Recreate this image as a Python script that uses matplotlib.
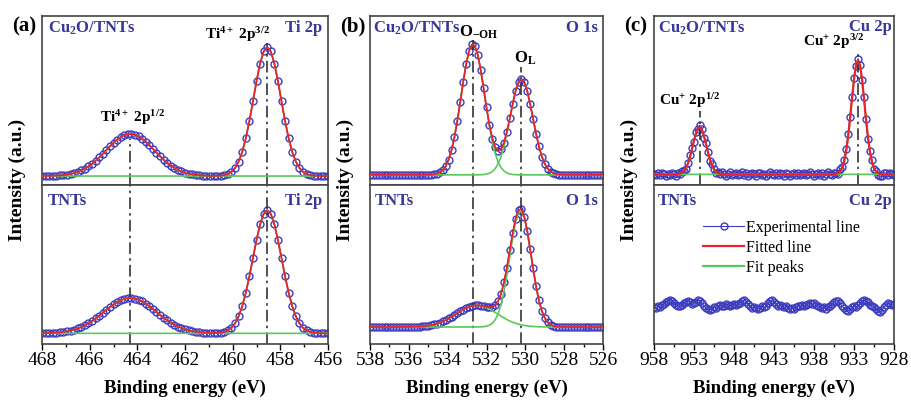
import numpy as np
from matplotlib import pyplot as plt

plt.rcParams['font.family'] = ['Liberation Serif', 'DejaVu Serif']
plt.rcParams['mathtext.fontset'] = 'custom'
plt.rcParams['mathtext.rm'] = 'Liberation Serif:bold'
plt.rcParams['mathtext.it'] = 'Liberation Serif:bold'
plt.rcParams['mathtext.bf'] = 'Liberation Serif:bold'

# ---- fit peak tables (position eV, height, FWHM eV) ----
# (a) Ti 2p
ti_cu_base = 0.053
ti_cu_pos = [464.3, 458.55]
ti_cu_amp = [0.249, 0.763]
ti_cu_fwhm = [2.4, 1.35]
ti_tnt_base = 0.067
ti_tnt_pos = [464.3, 458.55]
ti_tnt_amp = [0.222, 0.775]
ti_tnt_fwhm = [2.6, 1.42]

# (b) O 1s
o_cu_base = 0.06
o_cu_pos = [532.7, 530.2]
o_cu_amp = [0.774, 0.567]
o_cu_fwhm = [1.42, 1.36]
o_tnt_base = 0.107
o_tnt_pos = [532.5, 530.25]
o_tnt_amp = [0.136, 0.73]
o_tnt_fwhm = [2.5, 1.3]

# (c) Cu 2p
cu_cu_base = 0.063
cu_cu_pos = [952.3, 932.5]
cu_cu_amp = [0.28, 0.676]
cu_cu_fwhm = [2.0, 1.95]

# scatter of the measured Cu2O/TNTs Cu 2p points around the fit (958 -> 928, 0.25 eV)
cu_cu_resid = [0.004, -0.006, 0.008, -0.002, 0.010, 0.003, -0.008, 0.005,
               -0.004, 0.009, 0.002, -0.010, 0.006, -0.003, 0.011, 0.001,
               -0.007, 0.004, 0.012, 0.006, -0.005, 0.008, -0.002, 0.010,
               0.003, -0.009, 0.006, 0.000, -0.006, 0.009, 0.004, -0.008,
               0.007, -0.003, 0.010, 0.002, -0.007, 0.005, 0.011, -0.004,
               0.003, 0.008, -0.006, 0.004, 0.012, -0.002, 0.006, -0.009,
               0.001, 0.009, 0.004, -0.007, 0.006, 0.010, -0.003, 0.005,
               -0.008, 0.003, 0.011, 0.002, -0.005, 0.007, -0.002, 0.009,
               0.004, -0.007, 0.006, 0.001, -0.009, 0.005, 0.010, -0.003,
               0.006, -0.005, 0.002, 0.009, -0.006, 0.004, 0.012, 0.001,
               -0.007, 0.005, 0.010, -0.002, 0.006, -0.008, 0.003, 0.011,
               0.002, -0.006, 0.008, 0.004, -0.003, 0.012, 0.007, 0.015,
               0.018, 0.020, 0.014, 0.010, 0.006, -0.004, 0.009, 0.002,
               -0.006, 0.008, 0.003, -0.010, 0.006, 0.011, -0.003, 0.004,
               -0.012, -0.015, -0.008, 0.005, 0.009, -0.004, 0.007, 0.002,
               -0.005]

# measured TNTs Cu 2p (no peaks, only noise), 958 -> 928 every 0.25 eV
cu_tnt_counts = [0.232, 0.225, 0.238, 0.231, 0.244, 0.252, 0.262, 0.270,
                 0.276, 0.268, 0.259, 0.248, 0.241, 0.236, 0.244, 0.255,
                 0.266, 0.272, 0.262, 0.250, 0.258, 0.266, 0.274, 0.268,
                 0.255, 0.240, 0.226, 0.218, 0.214, 0.222, 0.233, 0.229,
                 0.238, 0.245, 0.236, 0.242, 0.250, 0.246, 0.238, 0.247,
                 0.252, 0.243, 0.249, 0.260, 0.270, 0.276, 0.266, 0.252,
                 0.238, 0.228, 0.233, 0.225, 0.219, 0.228, 0.236, 0.230,
                 0.241, 0.258, 0.270, 0.274, 0.262, 0.249, 0.240, 0.246,
                 0.238, 0.231, 0.236, 0.226, 0.220, 0.228, 0.222, 0.232,
                 0.240, 0.236, 0.244, 0.238, 0.246, 0.253, 0.258, 0.250,
                 0.256, 0.248, 0.240, 0.232, 0.225, 0.230, 0.222, 0.231,
                 0.240, 0.252, 0.264, 0.272, 0.268, 0.255, 0.240, 0.226,
                 0.212, 0.208, 0.218, 0.230, 0.238, 0.232, 0.244, 0.256,
                 0.268, 0.276, 0.270, 0.262, 0.248, 0.240, 0.232, 0.220,
                 0.205, 0.200, 0.214, 0.232, 0.248, 0.256, 0.250, 0.244,
                 0.252]

EXP_C = '#3c3cc0'
FIT_C = '#e8242a'
PEAK_C = '#5ac85a'
TXT_C = '#38389a'
LINE_C = '#333333'
DASHDOT = (0, (7, 2.5, 1.5, 2.5))


def peak(x, c, a, w):
    # gaussian line shape of one fit component
    return a * np.exp(-4 * np.log(2) * (x - c) ** 2 / w ** 2)


def draw_fit(ax, x, base, pos, amp, fwhm, resid=None, fit_lw=1.3):
    comps = [base + peak(x, c, a, w) for c, a, w in zip(pos, amp, fwhm)]
    total = base + sum(peak(x, c, a, w) for c, a, w in zip(pos, amp, fwhm))
    meas = total if resid is None else total + np.array(resid)
    ax.plot(x, meas, '-o', color=EXP_C, lw=0.8, ms=5, mfc='none', mew=1.0, zorder=2)
    for cc in comps:
        ax.plot(x, cc, color=PEAK_C, lw=1.2, zorder=3)
    ax.plot(x, total, color=FIT_C, lw=fit_lw, zorder=4)


def style(ax, xlim, major, bottom):
    ax.set_xlim(*xlim)
    ax.set_ylim(0, 1)
    ax.set_yticks([])
    ax.set_xticks(np.arange(xlim[1], xlim[0] + 0.01, major))
    ax.set_xticks(np.arange(xlim[1], xlim[0] + 0.01, major / 2), minor=True)
    ax.tick_params(axis='x', which='major', direction='out', length=4, width=1, labelsize=14, pad=2)
    ax.tick_params(axis='x', which='minor', direction='out', length=2.5, width=1)
    if not bottom:
        ax.tick_params(axis='x', which='both', length=0, labelbottom=False)
    for s in ax.spines.values():
        s.set_color('#444444')
        s.set_linewidth(1.2)


W, H = 911, 404
fig = plt.figure(figsize=(W / 100, H / 100), dpi=100)

cols = [(42, 328), (370, 603), (654, 894)]
axes = []
for l, r in cols:
    top = fig.add_axes([l / W, (H - 185) / H, (r - l) / W, 169 / H])
    bot = fig.add_axes([l / W, (H - 344) / H, (r - l) / W, 159 / H])
    axes.append((top, bot))

# ---------------- (a) Ti 2p ----------------
ax1, ax2 = axes[0]
xa = np.arange(456, 468.001, 0.15)
draw_fit(ax1, xa, ti_cu_base, ti_cu_pos, ti_cu_amp, ti_cu_fwhm)
draw_fit(ax2, xa, ti_tnt_base, ti_tnt_pos, ti_tnt_amp, ti_tnt_fwhm)
style(ax1, (468, 456), 2, False)
style(ax2, (468, 456), 2, True)
ax1.axvline(ti_cu_pos[0], 0, 0.27, color=LINE_C, lw=1.2, ls=DASHDOT)
ax1.axvline(ti_cu_pos[1], 0, 0.84, color=LINE_C, lw=1.2, ls=DASHDOT)
for p in ti_tnt_pos:
    ax2.axvline(p, color=LINE_C, lw=1.2, ls=DASHDOT)
ax1.text(464.2, 0.40, r'Ti$^{4+}$ 2p$^{1/2}$', fontsize=11, fontweight='bold', ha='center', va='center')
ax1.text(459.8, 0.89, r'Ti$^{4+}$ 2p$^{3/2}$', fontsize=11, fontweight='bold', ha='center', va='center')
ax1.text(0.02, 0.93, r'Cu$_2$O/TNTs', transform=ax1.transAxes, color=TXT_C, fontsize=12, fontweight='bold', va='center')
ax1.text(0.98, 0.93, 'Ti 2p', transform=ax1.transAxes, color=TXT_C, fontsize=12, fontweight='bold', va='center', ha='right')
ax2.text(0.02, 0.90, 'TNTs', transform=ax2.transAxes, color=TXT_C, fontsize=12, fontweight='bold', va='center')
ax2.text(0.98, 0.90, 'Ti 2p', transform=ax2.transAxes, color=TXT_C, fontsize=12, fontweight='bold', va='center', ha='right')

# ---------------- (b) O 1s ----------------
ax1, ax2 = axes[1]
xb = np.arange(526, 538.001, 0.15)
draw_fit(ax1, xb, o_cu_base, o_cu_pos, o_cu_amp, o_cu_fwhm)
draw_fit(ax2, xb, o_tnt_base, o_tnt_pos, o_tnt_amp, o_tnt_fwhm)
style(ax1, (538, 526), 2, False)
style(ax2, (538, 526), 2, True)
ax1.axvline(o_cu_pos[0], 0, 0.86, color=LINE_C, lw=1.2, ls=DASHDOT)
ax1.axvline(o_cu_pos[1], 0, 0.70, color=LINE_C, lw=1.2, ls=DASHDOT)
for p in o_cu_pos:
    ax2.axvline(p, color=LINE_C, lw=1.2, ls=DASHDOT)
ax1.text(532.4, 0.905, r'O$_{\mathrm{-OH}}$', fontsize=12, fontweight='bold', ha='center', va='center')
ax1.text(530.0, 0.75, r'O$_{\mathrm{L}}$', fontsize=12, fontweight='bold', ha='center', va='center')
ax1.text(0.015, 0.93, r'Cu$_2$O/TNTs', transform=ax1.transAxes, color=TXT_C, fontsize=12, fontweight='bold', va='center')
ax1.text(0.98, 0.93, 'O 1s', transform=ax1.transAxes, color=TXT_C, fontsize=12, fontweight='bold', va='center', ha='right')
ax2.text(0.02, 0.90, 'TNTs', transform=ax2.transAxes, color=TXT_C, fontsize=12, fontweight='bold', va='center')
ax2.text(0.98, 0.90, 'O 1s', transform=ax2.transAxes, color=TXT_C, fontsize=12, fontweight='bold', va='center', ha='right')

# ---------------- (c) Cu 2p ----------------
ax1, ax2 = axes[2]
xc = 958 - 0.25 * np.arange(len(cu_tnt_counts))
draw_fit(ax1, xc, cu_cu_base, cu_cu_pos, cu_cu_amp, cu_cu_fwhm, cu_cu_resid, fit_lw=1.6)
ax2.plot(xc, cu_tnt_counts, '-o', color=EXP_C, lw=0.8, ms=5, mfc='none', mew=1.0, label='Experimental line')
ax2.plot([], [], color=FIT_C, lw=1.6, label='Fitted line')
ax2.plot([], [], color=PEAK_C, lw=1.6, label='Fit peaks')
style(ax1, (958, 928), 5, False)
style(ax2, (958, 928), 5, True)
ax1.axvline(cu_cu_pos[0], 0, 0.44, color=LINE_C, lw=1.2, ls=DASHDOT)
ax1.axvline(cu_cu_pos[1], 0, 0.80, color=LINE_C, lw=1.2, ls=DASHDOT)
ax1.text(953.5, 0.50, r'Cu$^{+}$ 2p$^{1/2}$', fontsize=11, fontweight='bold', ha='center', va='center')
ax1.text(935.6, 0.85, r'Cu$^{+}$ 2p$^{3/2}$', fontsize=11, fontweight='bold', ha='center', va='center')
ax1.text(0.015, 0.93, r'Cu$_2$O/TNTs', transform=ax1.transAxes, color=TXT_C, fontsize=12, fontweight='bold', va='center')
ax1.text(0.99, 0.935, 'Cu 2p', transform=ax1.transAxes, color=TXT_C, fontsize=12, fontweight='bold', va='center', ha='right')
ax2.text(0.015, 0.90, 'TNTs', transform=ax2.transAxes, color=TXT_C, fontsize=12, fontweight='bold', va='center')
ax2.text(0.99, 0.90, 'Cu 2p', transform=ax2.transAxes, color=TXT_C, fontsize=12, fontweight='bold', va='center', ha='right')
ax2.legend(loc='upper left', bbox_to_anchor=(0.17, 0.83), frameon=False, fontsize=11.5,
           handlelength=2.6, handletextpad=0.1, labelspacing=0.25, borderpad=0)

# panel letters, y and x labels
for (l, r), tag in zip(cols, ['(a)', '(b)', '(c)']):
    fig.text((l - 30) / W, (H - 26) / H, tag, fontsize=15, fontweight='bold', va='center')
    fig.text((l - 25) / W, (H - 180) / H, 'Intensity (a.u.)', fontsize=14, fontweight='bold',
             rotation=90, va='center', ha='center')
    fig.text((l + r) / 2 / W, (H - 388) / H, 'Binding energy (eV)', fontsize=13.5, fontweight='bold',
             ha='center', va='center')

plt.savefig('out.png', dpi=100)
